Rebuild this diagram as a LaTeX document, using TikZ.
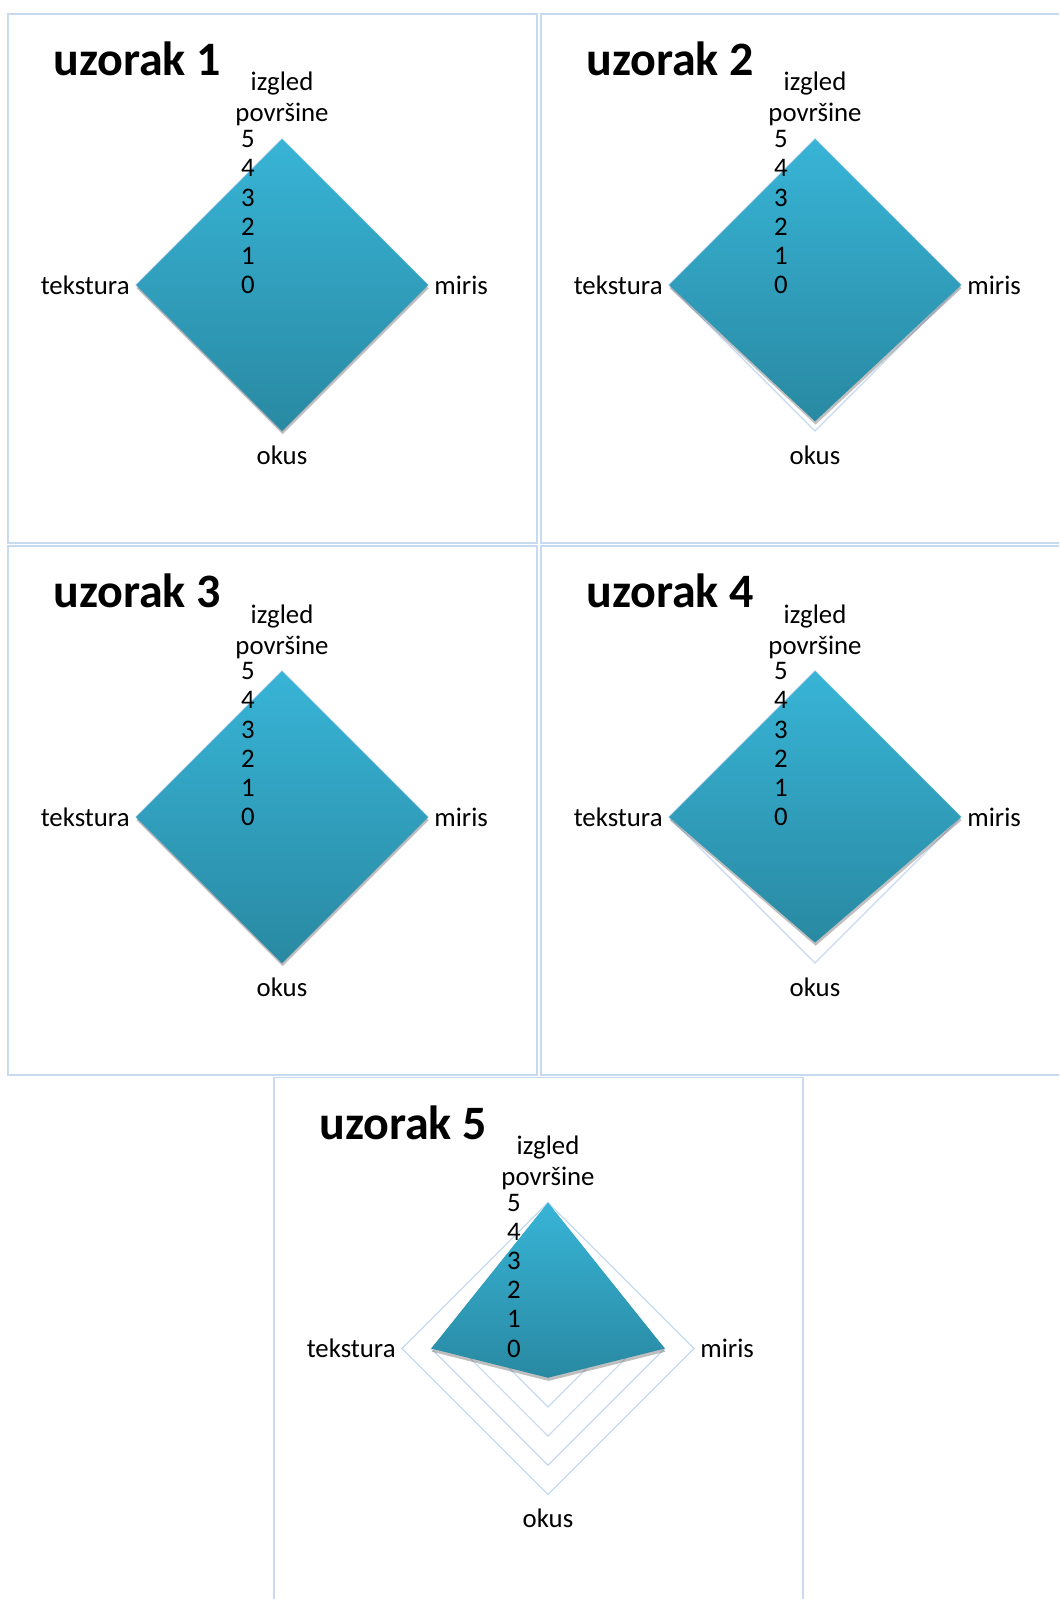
\documentclass[tikz,border=0pt]{standalone}
\usepackage{fontspec}
\setmainfont{Carlito}
\usetikzlibrary{shadows}

\definecolor{framec}{RGB}{200,218,240}
\definecolor{gridc}{RGB}{198,217,241}
\definecolor{filltop}{RGB}{56,180,214}
\definecolor{fillbot}{RGB}{41,137,162}

\begin{document}
\begin{tikzpicture}[x=0.5pt,y=-0.5pt,
    paneframe/.style={draw=framec,line width=0.9pt},
    gridline/.style={draw=gridc,line width=0.6pt},
    scorefill/.style={top color=filltop,bottom color=fillbot,
      drop shadow={shadow xshift=0.3pt,shadow yshift=-1.6pt,fill=black!60,opacity=0.42}},
    heading/.style={font=\fontsize{24}{28}\selectfont\bfseries,inner sep=0pt,anchor=west},
    axislab/.style={font=\fontsize{13.4}{16}\selectfont,inner sep=0pt}]

  \useasboundingbox (0,0) rectangle (1059,1599);
  \clip (0,0) rectangle (1059,1599);

  % one score step along an axis
  \def\u{29.2}

  % radar panel: #1 number, (#2,#3) frame corner,
  % #4 izgled, #5 miris, #6 okus, #7 tekstura
  \def\radar#1#2#3#4#5#6#7{
    \draw[paneframe] (#2,#3) rectangle ++(529,529);
    \begin{scope}[shift={(#2+274,#3+271)}]
      % grid
      \foreach \k in {1,...,5}
        \draw[gridline] (0,-\k*\u) -- (\k*\u,0) -- (0,\k*\u) -- (-\k*\u,0) -- cycle;
      % scores
      \path[scorefill] (0,-#4*\u) -- (#5*\u,0) -- (0,#6*\u) -- (-#7*\u,0) -- cycle;
      % texts
      \node[heading] (title#1) at (-229,-226) {uzorak #1};
      \node[axislab,anchor=base] (izg#1) at (0,-194) {izgled};
      \node[axislab,anchor=base] (pov#1) at (0,-163) {površine};
      \foreach \k in {0,...,5}
        \node[axislab] (n#1-\k) at (-34,-\k*\u) {\k};
      \node[axislab,anchor=east] (tek#1) at (-152,0) {tekstura};
      \node[axislab,anchor=west] (mir#1) at (152,0) {miris};
      \node[axislab] (oku#1) at (0,170) {okus};
    \end{scope}
  }

  % uzorak 1
  \radar{1}{8}{14}{5}{5}{5}{5}
  % uzorak 2
  \radar{2}{541}{14}{5}{5}{4.67}{5}
  % uzorak 3
  \radar{3}{8}{546}{5}{5}{5}{5}
  % uzorak 4
  \radar{4}{541}{546}{5}{5}{4.3}{5}
  % uzorak 5
  \radar{5}{274}{1077.5}{5}{4}{1}{4}
\end{tikzpicture}
\end{document}
